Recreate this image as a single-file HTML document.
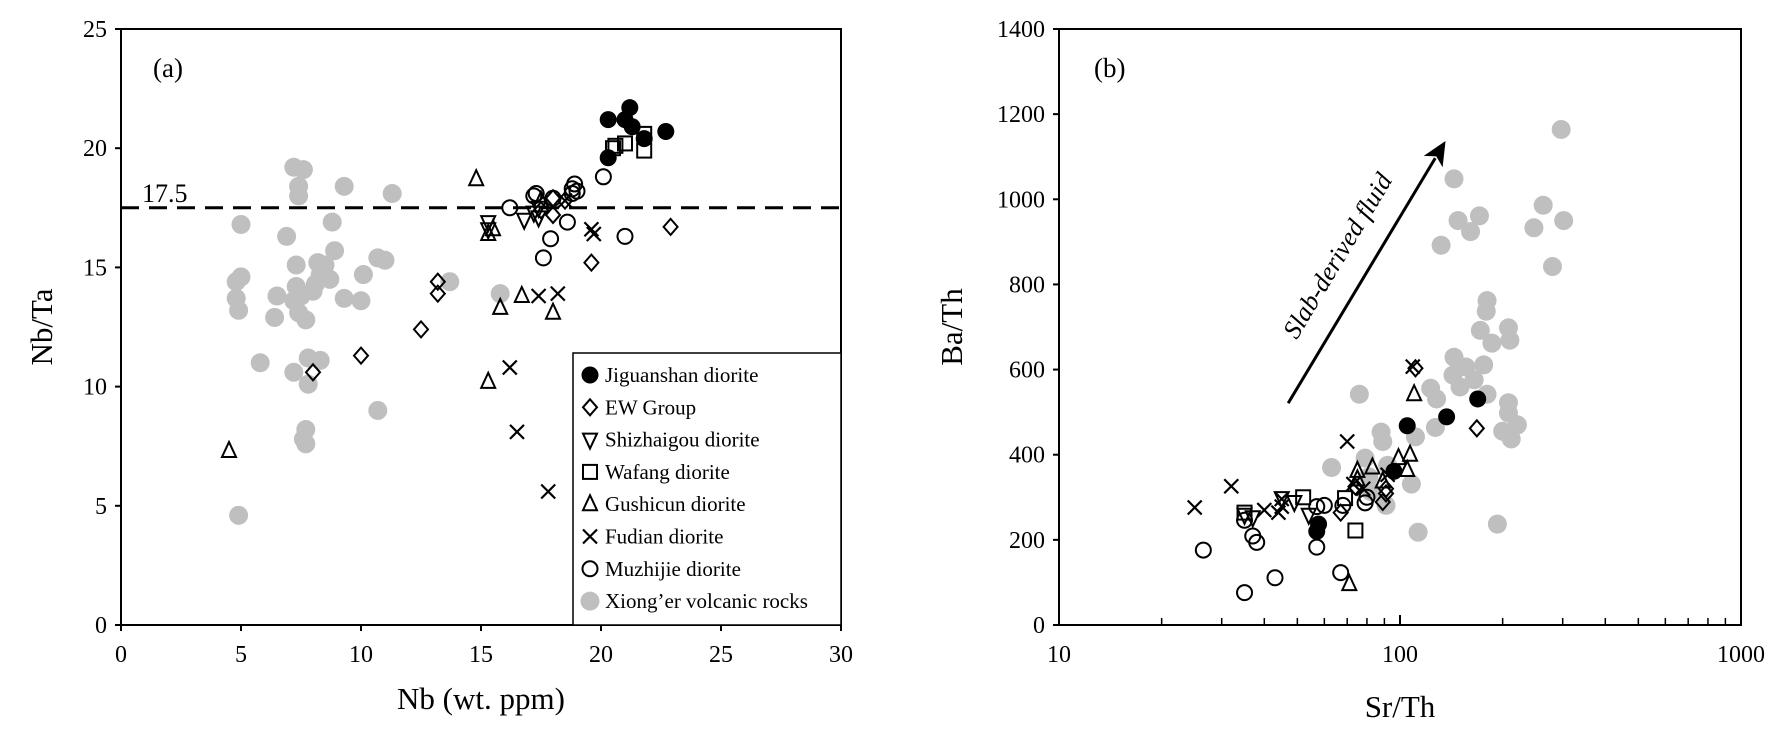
<!DOCTYPE html>
<html><head><meta charset="utf-8"><style>
html,body{margin:0;padding:0;background:#fff;}
svg{display:block;font-family:"Liberation Serif",serif;}
</style></head><body>
<svg id="fig" width="1788" height="740" viewBox="0 0 1788 740">
<rect width="1788" height="740" fill="#fff"/>
<g id="ga"></g>
<g id="gb"></g>
</svg>
<script>
// ---- Chart (a) data: Nb vs Nb/Ta ----
const aJiguanshan=[[20.3,21.2],[20.3,19.6],[21,21.2],[21.2,21.7],[21.3,20.9],[21.8,20.4],[22.7,20.7]];
const aEW=[[8,10.6],[10,11.3],[12.5,12.4],[13.2,13.9],[13.2,14.4],[17.5,17.4],[18,17.2],[18,17.9],[18.5,17.8],[19.6,15.2],[22.9,16.7]];
const aShizhaigou=[[15.3,16.9],[15.3,16.6],[16.8,17],[17.2,17.3],[17.4,17.5],[17.4,17.1]];
const aWafang=[[20.5,20],[20.6,20.1],[21,20.2],[21.8,20.6],[21.8,19.9]];
const aGushicun=[[4.5,7.3],[14.8,18.7],[15.3,16.4],[15.5,16.6],[15.8,13.3],[16.7,13.8],[17.5,17.8],[18,13.1],[15.3,10.2]];
const aFudian=[[16.2,10.8],[16.5,8.1],[17.4,13.8],[18.2,13.9],[17.8,5.6],[19.6,16.6],[19.7,16.4],[18.5,17.8]];
const aMuzhijie=[[16.2,17.5],[17.2,18],[17.3,18.1],[17.6,15.4],[17.9,16.2],[18,17.9],[18.6,16.9],[18.8,18.1],[18.9,18.5],[19,18.2],[20.1,18.8],[21,16.3],[18.8,18.3]];
const aXionger=[[7.2,19.2],[7.4,18.4],[7.6,19.1],[7.4,18],[9.3,18.4],[11.3,18.1],[5,16.8],[6.9,16.3],[8.8,16.9],[4.8,14.4],[5,14.6],[4.8,13.7],[4.9,13.2],[6.5,13.8],[6.4,12.9],[7.3,15.1],[7.3,14.2],[7.2,13.6],[7.4,13.1],[7.7,12.8],[7.5,13.8],[8,14],[8.1,14.3],[8.3,14.7],[8.2,15.2],[8.5,15.1],[8.7,14.5],[8.9,15.7],[9.3,13.7],[10,13.6],[10.1,14.7],[10.7,15.4],[11,15.3],[13.7,14.4],[15.8,13.9],[5.8,11],[7.2,10.6],[7.8,11.2],[8.3,11.1],[7.8,10.1],[10.7,9],[7.7,8.2],[7.6,7.8],[7.7,7.6],[4.9,4.6]];
const aXTicks=[0,5,10,15,20,25,30];
const aYTicks=[0,5,10,15,20,25];
const aRefLine=17.5;
// ---- Chart (b) data: Sr/Th vs Ba/Th ----
const bJiguanshan=[[57.7,237],[57,220],[96,361],[105,468],[137,489],[169,531]];
const bEW=[[67,264],[89,289],[91,309],[91,320],[111,603],[168,462],[74,325]];
const bShizhaigou=[[35,259],[37,253],[49,289],[54,259],[45,298]];
const bWafang=[[35,264],[52,300],[74,222],[69,298]];
const bGushicun=[[75,362],[83,370],[99,392],[107,400],[105,364],[110,542],[71,96],[89,337],[75,342]];
const bFudian=[[25,276],[32,326],[40,270],[44,264],[45,296],[45,278],[70,431],[73,331],[78,320],[109,607],[92,353]];
const bMuzhijie=[[26.5,176],[35,76],[43,111],[35,246],[37,209],[38,194],[57,278],[60,281],[57,183],[67,123],[68,281],[79,287],[80,300]];
const bXionger=[[297,1164],[144,1048],[263,986],[302,950],[148,950],[171,961],[161,924],[132,892],[247,933],[280,842],[180,762],[179,737],[172,692],[186,662],[208,698],[210,669],[144,629],[156,606],[176,611],[143,587],[150,559],[165,576],[180,542],[123,556],[128,531],[208,522],[208,498],[221,470],[212,437],[200,455],[127,464],[111,442],[88,453],[89,431],[76,542],[63,370],[79,392],[81,348],[92,375],[91,281],[108,331],[113,218],[193,237],[82,314]];
const bXTicks=[10,100,1000];
const bYTicks=[0,200,400,600,800,1000,1200,1400];
const bArrow=[[47,521],[136,1137]];
const legendLabels=["Jiguanshan diorite","EW Group","Shizhaigou diorite","Wafang diorite","Gushicun diorite","Fudian diorite","Muzhijie diorite","Xiong\u2019er volcanic rocks"];

const NS="http://www.w3.org/2000/svg";
function mk(tag,attrs,parent){const e=document.createElementNS(NS,tag);for(const k in attrs)e.setAttribute(k,attrs[k]);parent.appendChild(e);return e;}
function txt(s,attrs,parent){const e=mk('text',attrs,parent);e.textContent=s;return e;}

function marker(type,x,y,g){
  let e;
  const st={fill:'none',stroke:'#000','stroke-width':2};
  if(type==='filled'){e=mk('circle',{cx:x,cy:y,r:8.5,fill:'#000'},g);}
  else if(type==='gray'){e=mk('circle',{cx:x,cy:y,r:9.5,fill:'#bfbfbf'},g);}
  else if(type==='circle'){e=mk('circle',Object.assign({cx:x,cy:y,r:7.5},st),g);}
  else if(type==='diamond'){e=mk('polygon',Object.assign({points:`${x},${y-8} ${x+7},${y} ${x},${y+8} ${x-7},${y}`},st),g);}
  else if(type==='square'){e=mk('rect',Object.assign({x:x-7,y:y-7,width:14,height:14},st),g);}
  else if(type==='tri'){e=mk('polygon',Object.assign({points:`${x},${y-9} ${x+7},${y+6} ${x-7},${y+6}`},st),g);}
  else if(type==='itri'){e=mk('polygon',Object.assign({points:`${x},${y+9} ${x+7},${y-6} ${x-7},${y-6}`},st),g);}
  else if(type==='x'){e=mk('path',{d:`M${x-7},${y-7}L${x+7},${y+7}M${x+7},${y-7}L${x-7},${y+7}`,stroke:'#000','stroke-width':2.2,fill:'none'},g);}
  return e;
}
const types=['filled','diamond','itri','square','tri','x','circle','gray'];
const names=['jiguanshan','ew-group','shizhaigou','wafang','gushicun','fudian','muzhijie','xionger'];

function drawSeries(g,sets,fx,fy){
  const order=[7,0,1,2,3,4,5,6];
  order.forEach(i=>{
    sets[i].forEach(p=>{
      const m=marker(types[i],fx(p[0]),fy(p[1]),g);
      
      
    });
  });
}

// ---- Chart (a) ----
(function(){
  const g=document.getElementById('ga');
  const L=121,R=841,T=29,B=625;
  const fx=v=>L+(v-0)/(30-0)*(R-L);
  const fy=v=>B-(v-0)/(25-0)*(B-T);
  const frame=mk('rect',{x:L,y:T,width:R-L,height:B-T,fill:'none',stroke:'#000','stroke-width':2},g);
  
  aXTicks.forEach(t=>{
    mk('line',{x1:fx(t),x2:fx(t),y1:B,y2:B+6,stroke:'#000','stroke-width':2},g);
    const l=txt(t,{x:fx(t),y:B+37,'text-anchor':'middle','font-size':24},g);
    
  });
  aYTicks.forEach(t=>{
    mk('line',{x1:L-6,x2:L,y1:fy(t),y2:fy(t),stroke:'#000','stroke-width':2},g);
    const l=txt(t,{x:L-14,y:fy(t)+8,'text-anchor':'end','font-size':24},g);
    
  });
  const rl=mk('line',{x1:L,x2:R,y1:fy(aRefLine),y2:fy(aRefLine),stroke:'#000','stroke-width':3,'stroke-dasharray':'18,10'},g);
  
  const rt=txt('17.5',{x:142,y:fy(aRefLine)-6,'font-size':26},g);
  
  const pl=txt('(a)',{x:153,y:77,'font-size':27},g);
  
  const xt=txt('Nb (wt. ppm)',{x:(L+R)/2,y:709,'text-anchor':'middle','font-size':31},g);
  
  const yt=txt('Nb/Ta',{x:0,y:0,'text-anchor':'middle','font-size':31,transform:`translate(52,${(T+B)/2}) rotate(-90)`},g);
  
  drawSeries(g,[aJiguanshan,aEW,aShizhaigou,aWafang,aGushicun,aFudian,aMuzhijie,aXionger],fx,fy);
  const lg=mk('g',{},g);
  
  mk('rect',{x:573,y:353,width:268,height:272,fill:'#fff',stroke:'#000','stroke-width':1.5},lg);
  legendLabels.forEach((s,i)=>{
    const y=375+i*32.3;
    const eg=mk('g',{},lg);
    
    marker(types[i],590,y,eg);
    txt(s,{x:605,y:y+7,'font-size':21},eg);
  });
})();

// ---- Chart (b) ----
(function(){
  const g=document.getElementById('gb');
  const L=1059,R=1741,T=29,B=625;
  const fx=v=>L+(Math.log10(v)-1)/2*(R-L);
  const fy=v=>B-v/1400*(B-T);
  const frame=mk('rect',{x:L,y:T,width:R-L,height:B-T,fill:'none',stroke:'#000','stroke-width':2},g);
  
  for(let d=10;d<1000;d*=10){for(let k=2;k<=9;k++){mk('line',{x1:fx(d*k),x2:fx(d*k),y1:B,y2:B-7,stroke:'#000','stroke-width':1.5},g);}}
  bXTicks.forEach(t=>{
    mk('line',{x1:fx(t),x2:fx(t),y1:B,y2:B-10,stroke:'#000','stroke-width':2},g);
    const l=txt(t,{x:fx(t),y:B+37,'text-anchor':'middle','font-size':24},g);
    
  });
  bYTicks.forEach(t=>{
    mk('line',{x1:L-6,x2:L,y1:fy(t),y2:fy(t),stroke:'#000','stroke-width':2},g);
    const l=txt(t,{x:L-14,y:fy(t)+8,'text-anchor':'end','font-size':24},g);
    
  });
  const pl=txt('(b)',{x:1094,y:77,'font-size':27},g);
  
  const xt=txt('Sr/Th',{x:(L+R)/2,y:717,'text-anchor':'middle','font-size':31},g);
  
  const yt=txt('Ba/Th',{x:0,y:0,'text-anchor':'middle','font-size':31,transform:`translate(962,${(T+B)/2}) rotate(-90)`},g);
  
  drawSeries(g,[bJiguanshan,bEW,bShizhaigou,bWafang,bGushicun,bFudian,bMuzhijie,bXionger],fx,fy);
  const x1=fx(bArrow[0][0]),y1=fy(bArrow[0][1]),x2=fx(bArrow[1][0]),y2=fy(bArrow[1][1]);
  const ang=Math.atan2(y2-y1,x2-x1);
  const ag=mk('g',{},g);
  
  const hl=24, hw=11;
  const bx=x2-hl*Math.cos(ang), by=y2-hl*Math.sin(ang);
  mk('line',{x1:x1,y1:y1,x2:bx+4*Math.cos(ang),y2:by+4*Math.sin(ang),stroke:'#000','stroke-width':3},ag);
  const px=-Math.sin(ang),py=Math.cos(ang);
  mk('polygon',{points:`${x2},${y2} ${bx+hw*px},${by+hw*py} ${bx+6*Math.cos(ang)},${by+6*Math.sin(ang)} ${bx-hw*px},${by-hw*py}`,fill:'#000'},ag);
  const deg=ang*180/Math.PI;
  const at=txt('Slab-derived fluid',{x:0,y:0,'text-anchor':'middle','font-size':26,'font-style':'italic',transform:`translate(${(x1+x2)/2-22},${(y1+y2)/2-12}) rotate(${deg})`},g);
  
})();
</script>
</body></html>
